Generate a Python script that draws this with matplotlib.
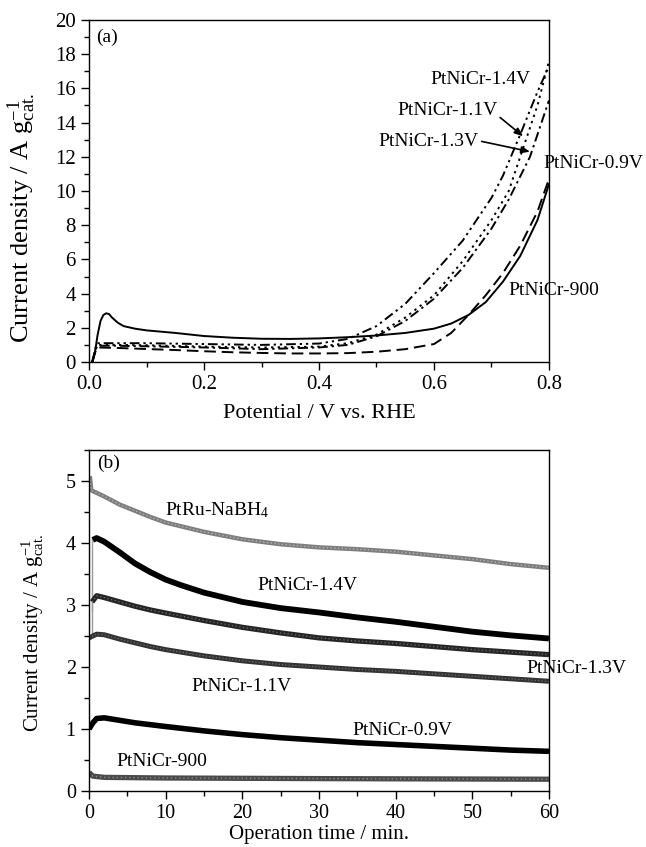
"""
Two-panel figure: LSV curves (a) and chronoamperometry (b) for PtNiCr catalysts.
"""
import numpy as np
import matplotlib
matplotlib.use('Agg')
import matplotlib.pyplot as plt
from matplotlib.ticker import MultipleLocator

plt.rcParams['font.family'] = ['Liberation Serif', 'DejaVu Serif']
plt.rcParams['mathtext.fontset'] = 'custom'
plt.rcParams['mathtext.rm'] = 'Liberation Serif'
plt.rcParams['mathtext.it'] = 'Liberation Serif:italic'

# ---- panel (a): potential (V) vs current density ----
pot_09 = [0.005, 0.01, 0.015, 0.02, 0.025, 0.03, 0.035, 0.04, 0.05, 0.06, 0.08, 0.1, 0.15, 0.2,
          0.25, 0.3, 0.35, 0.4, 0.45, 0.5, 0.55, 0.6, 0.63, 0.66, 0.69, 0.72, 0.75, 0.78, 0.8]
cur_09 = [0.0, 0.5, 1.6, 2.4, 2.75, 2.85, 2.8, 2.6, 2.3, 2.1, 1.95, 1.85, 1.7, 1.52,
          1.42, 1.36, 1.35, 1.38, 1.45, 1.55, 1.7, 1.95, 2.25, 2.75, 3.5, 4.7, 6.2, 8.3, 10.4]

pot_900 = [0.006, 0.01, 0.014, 0.05, 0.1, 0.15, 0.2, 0.25, 0.3, 0.35, 0.4, 0.45, 0.5, 0.55,
           0.6, 0.63, 0.66, 0.69, 0.72, 0.75, 0.78, 0.8]
cur_900 = [0.0, 0.5, 0.85, 0.82, 0.76, 0.7, 0.63, 0.57, 0.53, 0.5, 0.5, 0.52, 0.6, 0.75,
           1.05, 1.7, 2.75, 3.9, 5.2, 6.8, 8.8, 10.7]

pot_14 = [0.006, 0.01, 0.014, 0.05, 0.1, 0.2, 0.3, 0.4, 0.45, 0.5, 0.55, 0.6, 0.65, 0.7,
          0.73, 0.755, 0.78, 0.8]
cur_14 = [0.0, 0.6, 1.0, 1.0, 0.98, 0.9, 0.85, 0.9, 1.1, 1.6, 2.6, 3.9, 5.9, 8.3,
          10.0, 12.5, 15.0, 17.6]

pot_11 = [0.006, 0.01, 0.014, 0.05, 0.1, 0.2, 0.3, 0.4, 0.45, 0.5, 0.55, 0.6, 0.65, 0.7,
          0.72, 0.75, 0.78, 0.8]
cur_11 = [0.0, 0.7, 1.1, 1.1, 1.1, 1.05, 1.0, 1.08, 1.35, 2.1, 3.4, 5.2, 7.1, 9.6,
          10.9, 13.3, 15.8, 17.3]

pot_13 = [0.006, 0.01, 0.014, 0.05, 0.1, 0.2, 0.3, 0.4, 0.45, 0.5, 0.55, 0.6, 0.65, 0.7,
          0.73, 0.767, 0.8]
cur_13 = [0.0, 0.55, 0.95, 0.95, 0.92, 0.85, 0.75, 0.85, 1.0, 1.5, 2.4, 3.7, 5.5, 7.8,
          9.5, 12.0, 15.3]

# ---- panel (b): time (min) vs current density ----
t_ru = [0.1, 0.3, 2, 4, 6, 8, 10, 15, 20, 25, 30, 35, 40, 45, 50, 55, 60]
j_ru = [5.08, 4.85, 4.75, 4.62, 4.52, 4.42, 4.33, 4.18, 4.06, 3.98, 3.93, 3.9, 3.86, 3.8,
        3.74, 3.66, 3.6]

t_14 = [0.5, 1, 2, 4, 6, 8, 10, 12, 15, 20, 25, 30, 35, 40, 45, 50, 55, 60]
j_14 = [4.05, 4.08, 4.02, 3.85, 3.67, 3.53, 3.41, 3.32, 3.2, 3.05, 2.95, 2.88, 2.8, 2.73,
        2.65, 2.57, 2.51, 2.46]

t_13 = [0.4, 1, 2, 4, 6, 8, 10, 15, 20, 25, 30, 35, 40, 45, 50, 55, 60]
j_13 = [3.05, 3.15, 3.12, 3.05, 2.98, 2.92, 2.87, 2.75, 2.64, 2.55, 2.47, 2.42, 2.38, 2.33,
        2.28, 2.24, 2.2]

t_11 = [0, 1, 2, 4, 6, 8, 10, 15, 20, 25, 30, 35, 40, 45, 50, 55, 60]
j_11 = [2.47, 2.53, 2.52, 2.45, 2.39, 2.33, 2.28, 2.18, 2.1, 2.04, 2.0, 1.96, 1.93, 1.89,
        1.85, 1.81, 1.77]

t_09 = [0, 0.5, 1, 2, 4, 6, 8, 10, 15, 20, 25, 30, 35, 40, 45, 50, 55, 60]
j_09 = [1.0, 1.1, 1.17, 1.18, 1.14, 1.1, 1.07, 1.04, 0.97, 0.91, 0.86, 0.82, 0.78, 0.75,
        0.72, 0.69, 0.66, 0.64]

t_900 = [0, 0.5, 2, 10, 30, 60]
j_900 = [0.3, 0.24, 0.22, 0.21, 0.2, 0.19]

# start-up transients (thin grey)
t_rise = [0.4, 0.4]
j_rise14 = [2.9, 4.1]
j_rise13 = [2.5, 3.1]


def style_axes(ax, size):
    for sp in ax.spines.values():
        sp.set_linewidth(1.0)
    ax.tick_params(which='both', direction='out', top=False, right=False, labelsize=size, width=1.0)
    ax.tick_params(which='major', length=6)
    ax.tick_params(which='minor', length=3.5)


fig = plt.figure(figsize=(6.46, 8.47), dpi=100)

# panel (a)
ax = fig.add_axes([0.1378, 0.5726, 0.712, 0.4038])
ax.plot(pot_09, cur_09, c='k', lw=1.4, ls='-')
ax.plot(pot_900, cur_900, c='k', lw=1.4, ls=(0, (6, 3)))
ax.plot(pot_14, cur_14, c='k', lw=1.4, ls=(0, (1.2, 2.2)))
ax.plot(pot_11, cur_11, c='k', lw=1.4, ls=(0, (5, 2, 1.2, 2, 1.2, 2)))
ax.plot(pot_13, cur_13, c='k', lw=1.4, ls=(0, (5, 2, 1.2, 2)))
ax.set_xlim(0, 0.8)
ax.set_ylim(0, 20)
ax.xaxis.set_major_locator(MultipleLocator(0.2))
ax.xaxis.set_minor_locator(MultipleLocator(0.1))
ax.yaxis.set_major_locator(MultipleLocator(2))
ax.yaxis.set_minor_locator(MultipleLocator(1))
ax.set_xticks(ax.get_xticks())
ax.set_xticklabels([f'{v:.1f}' for v in ax.get_xticks()])
ax.set_xlim(0, 0.8)
style_axes(ax, 15)
ax.set_xlabel('Potential / V vs. RHE', fontsize=16, labelpad=7)
ax.set_ylabel(r'Current density / A g$_{\mathregular{cat.}}^{\mathregular{-1}}$', fontsize=19)
ax.yaxis.set_label_coords(-0.112, 0.42)
ax.text(0.012, 19.0, '(a)', fontsize=14, va='center')
ax.text(0.593, 16.5, 'PtNiCr-1.4V', fontsize=14, va='center')
ax.text(0.537, 14.7, 'PtNiCr-1.1V', fontsize=14, va='center')
ax.text(0.503, 12.9, 'PtNiCr-1.3V', fontsize=14, va='center')
ax.text(0.79, 11.6, 'PtNiCr-0.9V', fontsize=14, va='center', clip_on=False)
ax.text(0.729, 4.2, 'PtNiCr-900', fontsize=14, va='center')
arrow = dict(arrowstyle='-|>,head_length=0.5,head_width=0.2', color='k', lw=1.2, shrinkA=0, shrinkB=0)
ax.annotate('', xy=(0.755, 13.2), xytext=(0.715, 14.3), arrowprops=arrow)
ax.annotate('', xy=(0.767, 12.3), xytext=(0.683, 12.9), arrowprops=arrow)

# panel (b)
bx = fig.add_axes([0.1378, 0.0661, 0.712, 0.4026])
bx.plot(t_rise, j_rise14, c='#9a9a9a', lw=1.0)
bx.plot(t_rise, j_rise13, c='#9a9a9a', lw=1.0)
bx.plot(t_900, j_900, c='#4a4a4a', lw=3.8, solid_capstyle='butt')
bx.plot(t_900, j_900, c='#8a8a8a', lw=1.0, ls=(0, (1, 2)))
bx.plot(t_09, j_09, c='k', lw=4.0, solid_capstyle='butt')
bx.plot(t_11, j_11, c='#333333', lw=3.6, solid_capstyle='butt')
bx.plot(t_11, j_11, c='#7a7a7a', lw=0.8, ls=(0, (1, 2)))
bx.plot(t_13, j_13, c='#262626', lw=3.8, solid_capstyle='butt')
bx.plot(t_13, j_13, c='#6e6e6e', lw=0.9, ls=(0, (1, 2)))
bx.plot(t_14, j_14, c='k', lw=4.2, solid_capstyle='butt')
bx.plot(t_ru, j_ru, c='#7e7e7e', lw=3.2, solid_capstyle='butt')
bx.plot(t_ru, j_ru, c='#b8b8b8', lw=0.9, ls=(0, (1, 2)))
bx.set_xlim(0, 60)
bx.set_ylim(0, 5.5)
bx.xaxis.set_major_locator(MultipleLocator(10))
bx.xaxis.set_minor_locator(MultipleLocator(5))
bx.yaxis.set_major_locator(MultipleLocator(1))
bx.yaxis.set_minor_locator(MultipleLocator(0.5))
style_axes(bx, 14.5)
bx.set_xlabel('Operation time / min.', fontsize=15, labelpad=1)
bx.set_ylabel(r'Current density / A g$_{\mathregular{cat.}}^{\mathregular{-1}}$', fontsize=15)
bx.yaxis.set_label_coords(-0.093, 0.463)
bx.text(1.0, 5.29, '(b)', fontsize=14, va='center')
bx.text(9.9, 4.53, r'PtRu-NaBH$_{\mathregular{4}}$', fontsize=14, va='center')
bx.text(21.9, 3.32, 'PtNiCr-1.4V', fontsize=14, va='center')
bx.text(57.1, 1.98, 'PtNiCr-1.3V', fontsize=14, va='center', clip_on=False)
bx.text(13.4, 1.68, 'PtNiCr-1.1V', fontsize=14, va='center')
bx.text(34.4, 0.98, 'PtNiCr-0.9V', fontsize=14, va='center')
bx.text(3.6, 0.47, 'PtNiCr-900', fontsize=14, va='center')

fig.savefig('out.png', dpi=100)
plt.close(fig)
